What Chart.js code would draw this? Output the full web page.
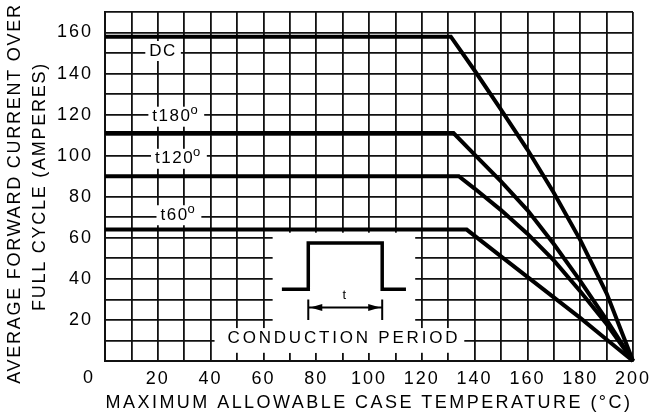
<!DOCTYPE html>
<html>
<head>
<meta charset="utf-8">
<script src="https://cdn.jsdelivr.net/npm/chart.js"></script>
<style>
  html, body { margin: 0; padding: 0; background: #fff; }
</style>
</head>
<body>
<canvas id="derating" width="666" height="418"></canvas>
<script>
// curves: case temperature (degC) vs average current (A)
const dcTemp   = [0, 131, 140, 150, 160, 170, 180, 190, 200];
const dcAmps   = [158, 158, 141.5, 122.5, 103, 82, 59, 33, 0];
const t180Temp = [0, 132, 140, 150, 160, 170, 180, 190, 200];
const t180Amps = [111, 111, 100.5, 87.5, 73.5, 57, 39, 20, 0];
const t120Temp = [0, 134, 140, 150, 160, 170, 180, 190, 200];
const t120Amps = [90, 90, 84, 73.5, 62, 49, 34, 18, 0];
const t60Temp  = [0, 137, 150, 160, 170, 180, 190, 200];
const t60Amps  = [64, 64, 51, 41, 31, 21, 10.5, 0];
// little square pulse sketch in the middle of the grid
const pulseTemp = [67, 77, 77, 105, 105, 114];
const pulseAmps = [35, 35, 57.5, 57.5, 35, 35];

const xTickLabels = [20, 40, 60, 80, 100, 120, 140, 160, 180, 200];
const yTickLabels = [20, 40, 60, 80, 100, 120, 140, 160];

const xTitle = 'MAXIMUM ALLOWABLE CASE TEMPERATURE (°C)';
const yTitle = ['AVERAGE FORWARD CURRENT OVER', 'FULL CYCLE (AMPERES)'];

// text written on the grid (in chart units)
const curveNotes = [
  { text: 'DC', sup: '', x: 22, y: 151, spacing: 1.5 },
  { text: 't180', sup: 'o', x: 27, y: 119, spacing: 1.5 },
  { text: 't120', sup: 'o', x: 28, y: 98.5, spacing: 1.5 },
  { text: 't60', sup: 'o', x: 28, y: 71, spacing: 1.5 },
  { text: 'CONDUCTION PERIOD', sup: '', x: 90.5, y: 11, spacing: 2.8 }
];
// white patches that break the grid behind the pulse sketch / text
const maskBoxes = [
  { x0: 63.5, x1: 117.5, y0: 4, y1: 62.5 },
  { x0: 41.5, x1: 135, y0: 4, y1: 16 }
];

function pts(xs, ys) { return xs.map((v, i) => ({ x: v, y: ys[i] })); }

const FONT = '"Liberation Sans", Arial, sans-serif';

const annotate = {
  id: 'annotate',
  beforeLayout(chart) { chart.ctx.letterSpacing = '2px'; },
  beforeDraw(chart) { chart.ctx.letterSpacing = '2px'; },
  beforeDatasetsDraw(chart) {
    const ctx = chart.ctx, x = chart.scales.x, y = chart.scales.y;
    ctx.save();
    ctx.fillStyle = '#fff';
    maskBoxes.forEach(b => {
      const l = x.getPixelForValue(b.x0), r = x.getPixelForValue(b.x1);
      const t = y.getPixelForValue(b.y1), bt = y.getPixelForValue(b.y0);
      ctx.fillRect(l, t, r - l, bt - t);
    });
    ctx.textBaseline = 'middle';
    ctx.textAlign = 'left';
    curveNotes.forEach(n => {
      ctx.letterSpacing = n.spacing + 'px';
      ctx.font = '17px ' + FONT;
      const w1 = ctx.measureText(n.text).width;
      ctx.font = '13px ' + FONT;
      const w2 = n.sup ? ctx.measureText(n.sup).width : 0;
      const w = w1 + w2;
      const px = x.getPixelForValue(n.x) - w / 2, py = y.getPixelForValue(n.y);
      ctx.fillStyle = '#fff';
      ctx.fillRect(px - 4, py - 10, w + 8, 20);
      ctx.fillStyle = '#000';
      ctx.font = '17px ' + FONT;
      ctx.fillText(n.text, px, py);
      if (n.sup) {
        ctx.font = '13px ' + FONT;
        ctx.fillText(n.sup, px + w1 - 1, py - 6);
      }
    });
    ctx.restore();
  },
  afterDatasetsDraw(chart) {
    const ctx = chart.ctx, x = chart.scales.x, y = chart.scales.y;
    ctx.save();
    // period arrow under the pulse
    const a = x.getPixelForValue(pulseTemp[1]), b = x.getPixelForValue(pulseTemp[3]);
    const ay = y.getPixelForValue(26);
    ctx.strokeStyle = '#000';
    ctx.fillStyle = '#000';
    ctx.lineWidth = 2;
    ctx.beginPath();
    ctx.moveTo(a, y.getPixelForValue(30)); ctx.lineTo(a, y.getPixelForValue(20));
    ctx.moveTo(b, y.getPixelForValue(30)); ctx.lineTo(b, y.getPixelForValue(20));
    ctx.moveTo(a, ay); ctx.lineTo(b, ay);
    ctx.stroke();
    ctx.beginPath();
    ctx.moveTo(a + 2, ay); ctx.lineTo(a + 14, ay - 3.5); ctx.lineTo(a + 14, ay + 3.5); ctx.closePath();
    ctx.moveTo(b - 2, ay); ctx.lineTo(b - 14, ay - 3.5); ctx.lineTo(b - 14, ay + 3.5); ctx.closePath();
    ctx.fill();
    ctx.font = '13px ' + FONT;
    ctx.textAlign = 'center';
    ctx.textBaseline = 'middle';
    ctx.fillText('t', (a + b) / 2, y.getPixelForValue(32));
    ctx.restore();
  },
  afterDraw(chart) {
    const ctx = chart.ctx, x = chart.scales.x, y = chart.scales.y, area = chart.chartArea;
    ctx.save();
    ctx.fillStyle = '#000';
    ctx.textAlign = 'center';
    ctx.textBaseline = 'middle';
    // the lone "0" sits below-left of the corner
    ctx.font = '18px ' + FONT;
    ctx.letterSpacing = '0px';
    ctx.fillText('0', x.getPixelForValue(0) - 17, y.getPixelForValue(0) + 17);
    // axis titles, widely spaced like the scan
    ctx.letterSpacing = '2.45px';
    ctx.fillText(xTitle, (area.left + area.right) / 2, 403);
    ctx.letterSpacing = '1.75px';
    const cy = (area.top + area.bottom) / 2;
    ctx.translate(15, cy + 7);
    ctx.rotate(-Math.PI / 2);
    ctx.fillText(yTitle[0], 0, 0);
    ctx.rotate(Math.PI / 2);
    ctx.translate(25, -7);
    ctx.rotate(-Math.PI / 2);
    ctx.fillText(yTitle[1], 0, 0);
    ctx.restore();
  }
};

const curveStyle = { borderColor: '#000', borderWidth: 4, pointRadius: 0, tension: 0, fill: false, clip: 4 };

new Chart('derating', {
  type: 'line',
  data: {
    datasets: [
      Object.assign({ label: 'DC', data: pts(dcTemp, dcAmps) }, curveStyle),
      Object.assign({ label: '180', data: pts(t180Temp, t180Amps) }, curveStyle),
      Object.assign({ label: '120', data: pts(t120Temp, t120Amps) }, curveStyle),
      Object.assign({ label: '60', data: pts(t60Temp, t60Amps) }, curveStyle),
      Object.assign({ label: 'pulse', data: pts(pulseTemp, pulseAmps) }, curveStyle, { borderWidth: 3.5 })
    ]
  },
  options: {
    responsive: false,
    animation: false,
    devicePixelRatio: 1,
    layout: { padding: { top: 12, right: 33, left: 0, bottom: 0 } },
    plugins: { legend: { display: false }, tooltip: { enabled: false } },
    scales: {
      x: {
        type: 'linear', min: 0, max: 200,
        afterFit(s) { s.height = 57; s.paddingLeft = 0; s.paddingRight = 0; },
        grid: { color: '#111', lineWidth: 1.8, drawTicks: false },
        border: { color: '#111', width: 2 },
        ticks: {
          stepSize: 10, autoSkip: false, maxRotation: 0, padding: 7, color: '#000',
          font: { family: FONT, size: 18 },
          callback: v => xTickLabels.includes(v) ? String(v) : ''
        }
      },
      y: {
        type: 'linear', min: 0, max: 170,
        afterFit(s) { s.width = 105; s.paddingTop = 0; s.paddingBottom = 0; },
        grid: { color: '#111', lineWidth: 1.8, drawTicks: false },
        border: { color: '#111', width: 2 },
        ticks: {
          stepSize: 10, autoSkip: false, padding: 12, color: '#000',
          font: { family: FONT, size: 18 },
          callback: v => yTickLabels.includes(v) ? String(v) : ''
        }
      }
    }
  },
  plugins: [annotate]
});
</script>
</body>
</html>
